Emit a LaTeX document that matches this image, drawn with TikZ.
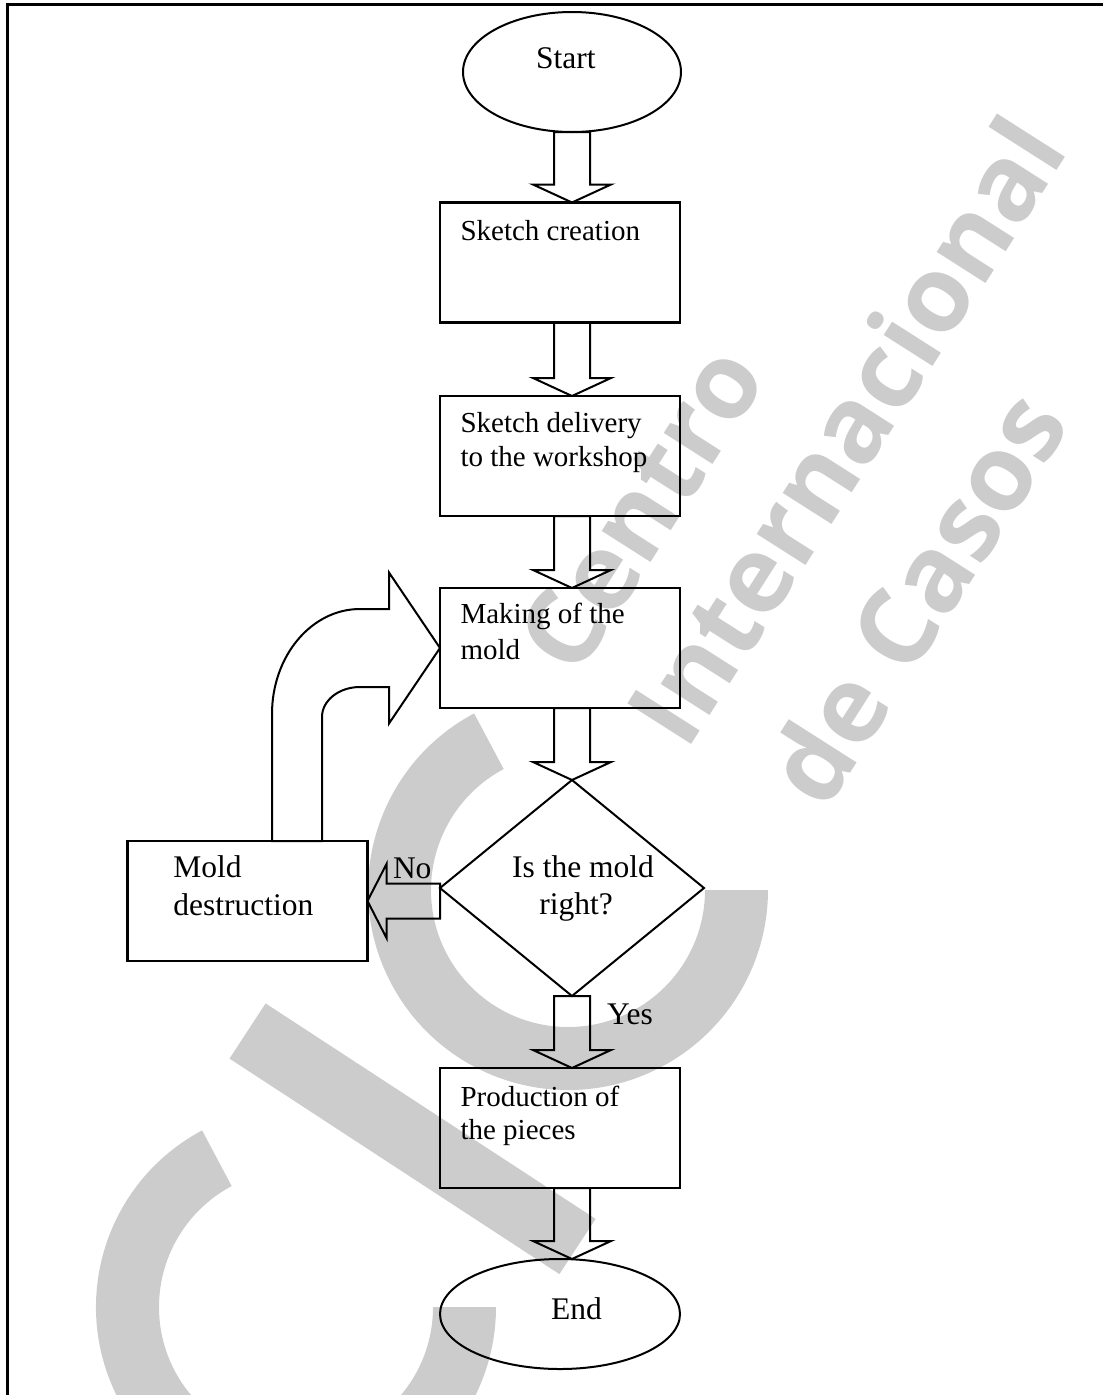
\documentclass[tikz,border=0pt]{standalone}
\usepackage{fontspec}
\setmainfont{Liberation Serif}
\newfontfamily\wmfont{Open Sans}
\usetikzlibrary{shapes.geometric,calc}
\definecolor{wm}{HTML}{CCCCCC}
\tikzset{
 box/.style={draw, rectangle, line width=2.2pt, minimum width=240pt, minimum height=120pt, inner sep=0pt, outer sep=0pt},
 oval/.style={draw, ellipse, line width=2pt, inner sep=0pt, outer sep=0pt},
 decision/.style={draw, diamond, line width=2pt, minimum width=264pt, minimum height=216pt, inner sep=0pt, outer sep=0pt},
 blk/.style={draw, line width=2pt, line join=miter},
 lbl/.style={inner sep=0pt, outer sep=0pt, font=\fontsize{29}{34}\selectfont},
 lblb/.style={inner sep=0pt, outer sep=0pt, font=\fontsize{31.5}{38}\selectfont},
 wmtext/.style={text=wm, inner sep=0pt, font=\wmfont\bfseries\fontsize{106}{127}\selectfont, rotate=57.5},
 frame/.style={line width=3pt}
}
\newcommand{\flowarrow}[2]{\draw[blk] let \p1=(#1.south), \p2=(#2.north), \p3=(start.center) in
  (\x3-18pt,\y1) -- (\x3-18pt,\y2+18pt) -- (\x3-39pt,\y2+18pt) -- (\x3,\y2) -- (\x3+39pt,\y2+18pt) -- (\x3+18pt,\y2+18pt) -- (\x3+18pt,\y1) -- cycle;}
\begin{document}
\begin{tikzpicture}[x=1pt,y=-1pt]
\useasboundingbox (0,0) rectangle (1103,1395);
% watermark
\coordinate (c1) at (568,890);
\coordinate (c2) at (296,1307);
\fill[wm] ($(c1)+(118:200pt)$) arc[start angle=118,end angle=360,radius=200pt] -- ($(c1)+(0:137pt)$) arc[start angle=360,end angle=118,radius=137pt] -- cycle;
\fill[wm] ($(c2)+(118:200pt)$) arc[start angle=118,end angle=360,radius=200pt] -- ($(c2)+(0:137pt)$) arc[start angle=360,end angle=118,radius=137pt] -- cycle;
\fill[wm] (229.5,1058.6) -- (265.6,1003.4) -- (595.6,1218.9) -- (559.4,1274.1) -- cycle;
\node[wmtext] (wm1) at (641,508) {Centro};
\node[wmtext] (wm2) at (845,430) {Internacional};
\node[wmtext] (wm3) at (915,597) {de Casos};
% frame
\draw[frame] (7.5,1400) -- (7.5,4.8) -- (1110,4.8);
% nodes
\node[oval, minimum width=218pt, minimum height=120pt] (start) at (572,72) {};
\node[box] (sk1) at (560,262.5) {};
\node[box] (sk2) at (560,456) {};
\node[box] (make) at (560,648) {};
\node[decision] (dia) at (572,888) {};
\node[box] (mdes) at (247.5,901) {};
\node[box] (prod) at (560,1128) {};
\node[oval, minimum width=240pt, minimum height=110pt] (stop) at (560,1314) {};
% labels
\node[lbl, anchor=base west] (tsk1) at (460.5,240) {Sketch creation};
\node[lbl, anchor=base west] (tsk2a) at (460.5,432) {Sketch delivery};
\node[lbl, anchor=base west] (tsk2b) at (460.5,466) {to the workshop};
\node[lbl, anchor=base west] (tmk1) at (460.5,623) {Making of the};
\node[lbl, anchor=base west] (tmk2) at (460.5,659) {mold};
\node[lbl, anchor=base west] (tpr1) at (460.5,1106) {Production of};
\node[lbl, anchor=base west] (tpr2) at (460.5,1139) {the pieces};
\node[lblb, anchor=base west] (tmd1) at (173.3,877) {Mold};
\node[lblb, anchor=base west] (tmd2) at (173.3,915) {destruction};
\node[lblb, anchor=base] (tq1) at (583,877) {Is the mold};
\node[lblb, anchor=base] (tq2) at (576,914) {right?};
\node[lblb, anchor=base west] (tstart) at (536,68) {Start};
\node[lblb, anchor=base west] (tend) at (551,1319) {End};
\node[lblb, anchor=base west] (tno) at (393,878) {No};
\node[lblb, anchor=base west] (tyes) at (607,1024) {Yes};
% block arrows
\flowarrow{start}{sk1}
\flowarrow{sk1}{sk2}
\flowarrow{sk2}{make}
\flowarrow{make}{dia}
\flowarrow{dia}{prod}
\flowarrow{prod}{stop}
\draw[blk] let \p1=(dia.west), \p2=(mdes.east) in
  (\x1,\y2+17.5pt) -- (\x2+19pt,\y2+17.5pt) -- (\x2+19pt,\y2+37pt) -- (\x2,\y2) -- (\x2+19pt,\y2-37pt) -- (\x2+19pt,\y2-17.5pt) -- (\x1,\y2-17.5pt) -- cycle;
\draw[blk] let \p1=(mdes.north), \p2=(make.west) in
  (\x1+24.5pt,\y1) -- (\x1+24.5pt,\y2+39pt-105pt) arc[start angle=180,end angle=90,x radius=88pt,y radius=105pt]
  -- (\x2-51pt,\y2+39pt) -- (\x2-51pt,\y2+75.5pt) -- (\x2,\y2) -- (\x2-51pt,\y2-75.5pt) -- (\x2-51pt,\y2-39pt)
  -- (\x2-80pt,\y2-39pt) arc[start angle=90,end angle=180,x radius=38pt,y radius=30pt] -- (\x1+74.5pt,\y1) -- cycle;
\end{tikzpicture}
\end{document}
